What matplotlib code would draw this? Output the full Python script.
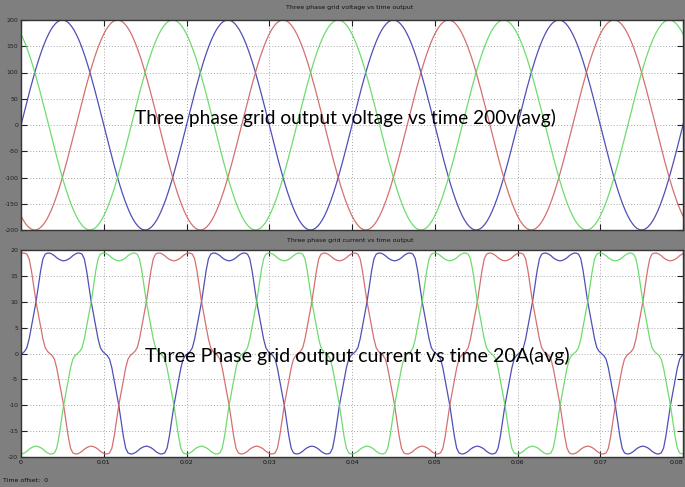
import numpy as np
import matplotlib
matplotlib.use("Agg")
import matplotlib.pyplot as plt

# ---------------- data ----------------
period = 0.02                 # s (50 Hz)
step_deg = 5                  # spacing of the waveform samples below
# one quarter cycle (0..90 deg, 5 deg steps) of the phase voltage, V
voltage_quarter = [0, 17.4, 34.7, 51.8, 68.4, 84.5, 100, 114.7, 128.6, 141.4,
                   153.2, 163.8, 173.2, 181.3, 187.9, 193.2, 197.0, 199.2, 200]
# one quarter cycle (0..90 deg, 5 deg steps) of the phase current, A
current_quarter = [0, 0.4, 1.1, 2.8, 5.2, 7.6, 10.0, 13.0, 16.0, 18.3,
                   19.2, 19.4, 19.4, 19.2, 18.9, 18.5, 18.2, 18.0, 17.9]
phase_colors = ["#3c3cae", "#d06060", "#5fd85f"]     # blue, red, green
voltage_phase_deg = [0, -120, 120]
current_phase_deg = [0, 120, -120]
voltage_delay = 0.0
current_delay = 0.00015
x_ticks = [0, 0.01, 0.02, 0.03, 0.04, 0.05, 0.06, 0.07, 0.08]
x_tick_labels = ["0", "0.01", "0.02", "0.03", "0.04", "0.05", "0.06", "0.07", "0.08"]
v_ticks = [-200, -150, -100, -50, 0, 50, 100, 150, 200]
i_ticks = [-20, -15, -10, -5, 0, 5, 10, 15, 20]
title_v = "Three phase grid voltage vs time output"
title_i = "Three phase grid current vs time output"
note_v = "Three phase grid output voltage vs time 200v(avg)"
note_i = "Three Phase grid output current vs time 20A(avg)"
offset_label = "Time offset:  0"


def full_cycle(q):
    half = list(q) + list(q[-2::-1])          # 0..180 deg
    return half[:-1] + [-v for v in half[:-1]]  # 0..355 deg


def phase_series(q, phase_deg, delay):
    cyc = full_cycle(q)
    n = len(cyc)
    ks = np.arange(-3 * n, 8 * n)
    t = delay + (ks * step_deg - phase_deg) / 360.0 * period
    y = np.array([cyc[k % n] for k in ks])
    m = (t > -0.002) & (t < 0.082)
    return t[m], y[m]


W, H = 685, 487
bg = "#7f7f7f"
fig = plt.figure(figsize=(W / 100, H / 100), dpi=100, facecolor=bg)


def make_axes(top, bottom, left=21, right=683):
    return fig.add_axes([left / W, (H - bottom) / H, (right - left) / W, (bottom - top) / H])


ax1 = make_axes(20, 230)
ax2 = make_axes(250, 457)

for ax, q, phases, delay, ticks, lim in [
        (ax1, voltage_quarter, voltage_phase_deg, voltage_delay, v_ticks, 200),
        (ax2, current_quarter, current_phase_deg, current_delay, i_ticks, 20)]:
    ax.set_facecolor("white")
    for col, ph in zip(phase_colors, phases):
        t, y = phase_series(q, ph, delay)
        ax.plot(t, y, color=col, lw=0.9, alpha=0.9)
    ax.set_xlim(0, 0.08)
    ax.set_ylim(-lim, lim)
    ax.set_xticks(x_ticks)
    ax.set_yticks(ticks)
    ax.set_yticklabels([str(v) for v in ticks], fontsize=4.5, color="#111111")
    ax.grid(True, color="#a8a8a8", linestyle=(0, (1, 2)), lw=0.7)
    ax.tick_params(direction="in", length=4, width=0.8, top=True, right=True,
                   pad=2, colors="#222222")
    for s in ax.spines.values():
        s.set_color("#333333")
        s.set_linewidth(1.0)

ax1.set_xticklabels([])
ax2.set_xticklabels(x_tick_labels, fontsize=4.5, color="#111111")
ax2.get_xticklabels()[-1].set_horizontalalignment("right")

fig.text(350 / W, 1 - 8 / H, title_v, fontsize=4.5, ha="center", va="center", color="#111111")
fig.text(350 / W, 1 - 241 / H, title_i, fontsize=4.5, ha="center", va="center", color="#111111")
fig.text(3 / W, 1 - 481 / H, offset_label, fontsize=4.5, ha="left", va="center", color="#111111")

fig.text(345 / W, 1 - 118 / H, note_v, fontsize=13.8, family="Lato",
         ha="center", va="center", color="black")
fig.text(357 / W, 1 - 356 / H, note_i, fontsize=14.1, family="Lato",
         ha="center", va="center", color="black")

fig.savefig("out.png", dpi=100, facecolor=bg)
